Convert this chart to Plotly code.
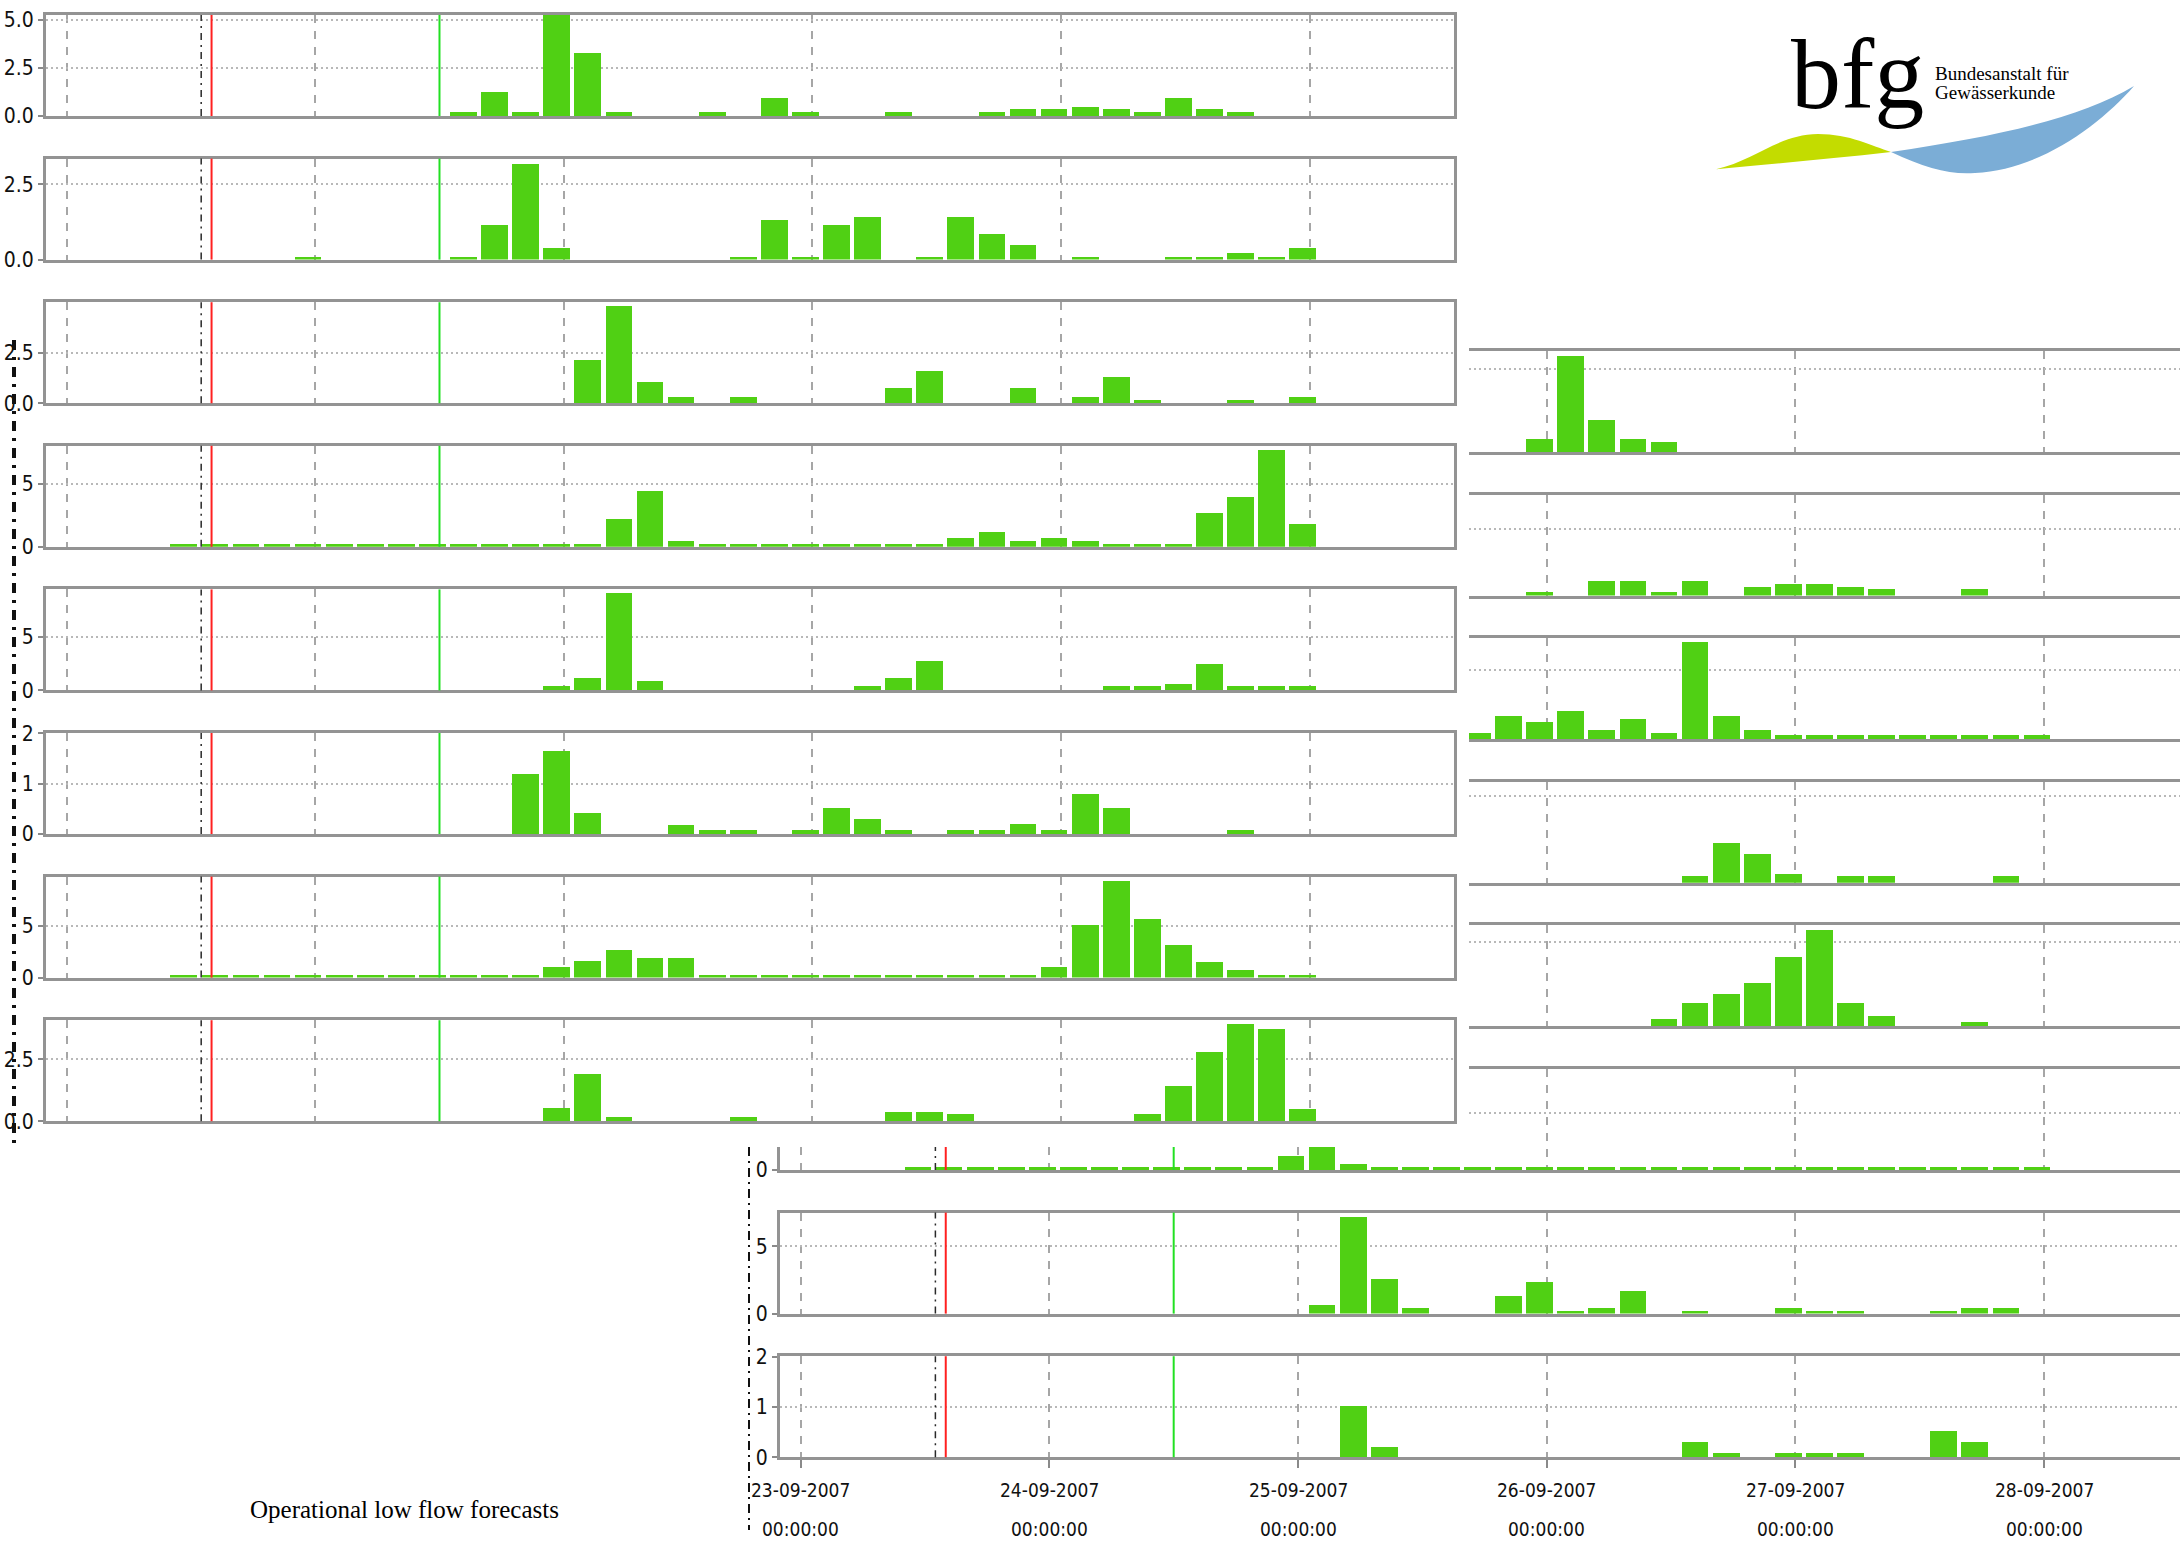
import pandas as pd
import plotly.graph_objects as go

W, H = 2180, 1542

# ---------------------------------------------------------------------------
# 3-hourly precipitation sums (mm / 3 h), one series per panel.
# Each series starts at the given period start and steps by 3 hours.
# ---------------------------------------------------------------------------
# left sheet (8 stations)
a1_start = "2007-09-24 12:00"
a1_mm = [0.21, 1.26, 0.21, 5.4, 3.3, 0.21, 0, 0, 0.21, 0, 0.95, 0.21, 0, 0,
         0.21, 0, 0, 0.21, 0.35, 0.35, 0.49, 0.35, 0.21, 0.95, 0.35, 0.21]
a2_start = "2007-09-23 21:00"
a2_mm = [0.11, 0, 0, 0, 0, 0.11, 1.16, 3.19, 0.39, 0, 0, 0, 0, 0, 0.11, 1.33,
         0.11, 1.16, 1.42, 0, 0.11, 1.42, 0.88, 0.49, 0, 0.11, 0, 0, 0.11,
         0.11, 0.22, 0.11, 0.39]
a3_start = "2007-09-25 00:00"
a3_mm = [2.13, 4.8, 1.03, 0.3, 0, 0.3, 0, 0, 0, 0, 0.75, 1.58, 0, 0, 0.75, 0,
         0.3, 1.3, 0.17, 0, 0, 0.17, 0, 0.3]
a4_start = "2007-09-23 09:00"
a4_mm = [0.26, 0.26, 0.26, 0.26, 0.26, 0.26, 0.26, 0.26, 0.26, 0.26, 0.26,
         0.26, 0.26, 0.26, 2.2, 4.4, 0.5, 0.26, 0.26, 0.26, 0.26, 0.26, 0.26,
         0.26, 0.26, 0.7, 1.15, 0.5, 0.7, 0.5, 0.26, 0.26, 0.26, 2.66, 3.96,
         7.68, 1.8]
a5_start = "2007-09-24 21:00"
a5_mm = [0.35, 1.13, 9.06, 0.88, 0, 0, 0, 0, 0, 0, 0.35, 1.13, 2.74, 0, 0, 0,
         0, 0, 0.35, 0.35, 0.6, 2.42, 0.35, 0.35, 0.35]
a6_start = "2007-09-24 18:00"
a6_mm = [1.2, 1.64, 0.41, 0, 0, 0.18, 0.08, 0.08, 0, 0.08, 0.52, 0.3, 0.08, 0,
         0.08, 0.08, 0.19, 0.08, 0.8, 0.52, 0, 0, 0, 0.08]
a7_start = "2007-09-23 09:00"
a7_mm = [0.3, 0.3, 0.3, 0.3, 0.3, 0.3, 0.3, 0.3, 0.3, 0.3, 0.3, 0.3, 1.11,
         1.66, 2.74, 1.91, 1.91, 0.28, 0.28, 0.28, 0.28, 0.28, 0.28, 0.28,
         0.28, 0.28, 0.28, 0.28, 1.06, 5.1, 9.45, 5.68, 3.23, 1.6, 0.8, 0.28,
         0.28]
a8_start = "2007-09-24 21:00"
a8_mm = [0.52, 1.88, 0.18, 0, 0, 0, 0.18, 0, 0, 0, 0, 0.38, 0.38, 0.27, 0, 0,
         0, 0, 0, 0.27, 1.41, 2.79, 3.92, 3.7, 0.5]

# right sheet (8 stations)
b1_start = "2007-09-25 21:00"
b1_mm = [0.77, 5.73, 1.92, 0.77, 0.61]
b2_start = "2007-09-25 21:00"
b2_mm = [0.15, 0, 0.58, 0.58, 0.15, 0.58, 0, 0.35, 0.46, 0.46, 0.35, 0.25, 0,
         0, 0.25]
b3_start = "2007-09-25 15:00"
b3_mm = [0.47, 1.67, 1.25, 2.05, 0.66, 1.46, 0.47, 7.0, 1.67, 0.66, 0.28,
         0.28, 0.28, 0.28, 0.28, 0.28, 0.28, 0.28, 0.28]
b4_start = "2007-09-26 12:00"
b4_mm = [0.19, 1.16, 0.84, 0.27, 0, 0.19, 0.19, 0, 0, 0, 0.19]
b5_start = "2007-09-26 09:00"
b5_mm = [0.4, 1.39, 1.9, 2.56, 4.07, 5.73, 1.39, 0.58, 0, 0, 0.24]
b6_start = "2007-09-23 09:00"
b6_mm = [0.29, 0.29, 0.29, 0.29, 0.29, 0.29, 0.29, 0.29, 0.29, 0.29, 0.29,
         0.29, 1.25, 2.4, 0.52, 0.29, 0.29, 0.29, 0.29, 0.29, 0.29, 0.29,
         0.29, 0.29, 0.29, 0.29, 0.29, 0.29, 0.29, 0.29, 0.29, 0.29, 0.29,
         0.29, 0.29, 0.29, 0.29]
b7_start = "2007-09-25 00:00"
b7_mm = [0.68, 7.2, 2.58, 0.45, 0, 0, 1.3, 2.35, 0.23, 0.45, 1.73, 0, 0.23, 0,
         0, 0.45, 0.23, 0.23, 0, 0, 0.23, 0.45, 0.45]
b8_start = "2007-09-25 03:00"
b8_mm = [1.02, 0.19, 0, 0, 0, 0, 0, 0, 0, 0, 0, 0.3, 0.08, 0, 0.08, 0.08, 0.08,
         0, 0, 0.52, 0.3]

# axis ticks
day_ticks = ["2007-09-23", "2007-09-24", "2007-09-25", "2007-09-26",
             "2007-09-27", "2007-09-28"]
day_labels = ["23-09-2007", "24-09-2007", "25-09-2007", "26-09-2007",
              "27-09-2007", "28-09-2007"]
time_label = "00:00:00"

# marker times drawn as vertical lines
t_last_obs = "2007-09-23 13:00"
t_issue = "2007-09-23 14:00"
t_forecast = "2007-09-24 12:00"

# ---------------------------------------------------------------------------
# styling / geometry
# ---------------------------------------------------------------------------
BAR = "#50d014"
FRAME = "#939393"
VGRID = "#a6a6a6"
HGRID = "#b8b8b8"
NARROW = "Liberation Sans Narrow, DejaVu Sans Condensed, Arial Narrow, sans-serif"
SERIF = "Liberation Serif, Times New Roman, serif"

T0 = pd.Timestamp("2007-09-23 00:00")
PX_PER_H = 248.66 / 24.0
A_DAY0, B_DAY0 = 66.5, 800.7          # pixel column of 23-09 00:00
A_LEFT, A_RIGHT = 46.0, 1454.0
B_LEFT, B_CUT, B_RIGHT = 780.0, 1469.0, 2180.0
COVER_Y = 1147.0                       # lower edge of the left sheet
A_TOP0, B_TOP0, STEP, PH = 15.0, 351.0, 143.6, 101.0

BAR_W = 2.58 * 3600000
BAR_OFF = 1.03 * 3600000


def t_at(x_px, day0):
    t = T0 + pd.Timedelta(hours=(x_px - day0) / PX_PER_H)
    return t.strftime("%Y-%m-%d %H:%M:%S")


def aid(prefix, k):
    return prefix if k == 1 else f"{prefix}{k}"


fig = go.Figure()
layout = {}
shapes = []
annotations = []
count = [0]


def add_panel(start, vals, xpx, day0, ypx, yrange, tickvals, ticktext=None,
              frame="full", markers=False, bottom_ticks=False):
    count[0] += 1
    k = count[0]
    times = pd.date_range(start, periods=len(vals), freq="3h")
    fig.add_trace(go.Bar(
        x=times, y=vals, xaxis=aid("x", k), yaxis=aid("y", k),
        width=BAR_W, offset=BAR_OFF,
        marker=dict(color=BAR, line=dict(width=0)),
        hoverinfo="skip", showlegend=False))

    x_mirror = frame in ("full", "right", "open")
    y_line = frame in ("full", "cut", "open")
    y_mirror = frame == "full"
    show_labels = ticktext is not None

    layout[aid("xaxis", k)] = dict(
        type="date", anchor=aid("y", k),
        domain=[xpx[0] / W, xpx[1] / W],
        range=[t_at(xpx[0], day0), t_at(xpx[1], day0)],
        tickmode="array", tickvals=day_ticks, showticklabels=False,
        ticks="outside" if bottom_ticks else "", ticklen=8, tickwidth=1.5,
        tickcolor="#8a8a8a",
        showgrid=True, gridcolor=VGRID, griddash="8px,8px", gridwidth=1.5,
        showline=True, linecolor=FRAME, linewidth=3, mirror=x_mirror,
        zeroline=False, fixedrange=True)
    layout[aid("yaxis", k)] = dict(
        anchor=aid("x", k),
        domain=[1 - ypx[1] / H, 1 - ypx[0] / H],
        range=yrange,
        tickmode="array", tickvals=tickvals,
        ticktext=ticktext if show_labels else None,
        showticklabels=show_labels,
        ticks="outside" if show_labels else "", ticklen=5, tickwidth=2,
        tickcolor="#8a8a8a", ticklabelstandoff=0,
        tickfont=dict(family=NARROW, size=21, color="#111111"),
        showgrid=True, gridcolor=HGRID, griddash="2px,3px", gridwidth=2,
        showline=y_line, linecolor=FRAME, linewidth=3, mirror=y_mirror,
        zeroline=False, fixedrange=True)

    if markers:
        for t, col, dash, w in ((t_last_obs, "#2a2a2a", "7px,5px,2px,5px", 1.5),
                                (t_issue, "#ff2020", "solid", 2),
                                (t_forecast, "#22e022", "solid", 2)):
            shapes.append(dict(type="line", xref=aid("x", k),
                               yref=aid("y", k) + " domain",
                               x0=t, x1=t, y0=0, y1=1, layer="above",
                               line=dict(color=col, width=w, dash=dash)))
    return k


# ---- left sheet --------------------------------------------------------
left_sheet = [
    (a1_start, a1_mm, [0, 5.26], [0, 2.5, 5.0], ["0.0", "2.5", "5.0"]),
    (a2_start, a2_mm, [0, 3.36], [0, 2.5], ["0.0", "2.5"]),
    (a3_start, a3_mm, [0, 5.0], [0, 2.5], ["0.0", "2.5"]),
    (a4_start, a4_mm, [0, 8.0], [0, 5], ["0", "5"]),
    (a5_start, a5_mm, [0, 9.4], [0, 5], ["0", "5"]),
    (a6_start, a6_mm, [0, 2.005], [0, 1, 2], ["0", "1", "2"]),
    (a7_start, a7_mm, [0, 9.8], [0, 5], ["0", "5"]),
    (a8_start, a8_mm, [0, 4.08], [0, 2.5], ["0.0", "2.5"]),
]
for i, (st, vals, yr, tv, tt) in enumerate(left_sheet):
    top = A_TOP0 + STEP * i
    add_panel(st, vals, (A_LEFT, A_RIGHT), A_DAY0, (top, top + PH), yr, tv, tt,
              frame="full", markers=True)

# ---- right sheet: upper panels, only the part right of the left sheet ----
right_upper = [
    (b1_start, b1_mm, [0, 6.05], [0, 5]),
    (b2_start, b2_mm, [0, 3.79], [0, 2.5]),
    (b3_start, b3_mm, [0, 7.3], [0, 5]),
    (b4_start, b4_mm, [0, 2.9], [0, 2.5]),
    (b5_start, b5_mm, [0, 6.0], [0, 5]),
    (b6_start, b6_mm, [0, 8.9], [0, 5]),
]
for i, (st, vals, yr, tv) in enumerate(right_upper):
    top = B_TOP0 + STEP * i
    add_panel(st, vals, (B_CUT, B_RIGHT), B_DAY0, (top, top + PH), yr, tv,
              None, frame="right")

# sixth panel of the right sheet: strip visible below the left sheet
b6_top = B_TOP0 + STEP * 5
b6_zero = b6_top + PH
b6_vis = 8.9 * (b6_zero - COVER_Y) / PH
add_panel(b6_start, b6_mm, (B_LEFT, B_CUT), B_DAY0, (COVER_Y, b6_zero),
          [0, b6_vis], [0], ["0"], frame="cut", markers=True)

# last two panels of the right sheet, fully visible
b7_top = B_TOP0 + STEP * 6
add_panel(b7_start, b7_mm, (B_LEFT, B_RIGHT), B_DAY0, (b7_top, b7_top + PH),
          [0, 7.5], [0, 5], ["0", "5"], frame="open", markers=True)
b8_top = B_TOP0 + STEP * 7
k_b8 = add_panel(b8_start, b8_mm, (B_LEFT, B_RIGHT), B_DAY0,
                 (b8_top, b8_top + PH), [0, 2.01], [0, 1, 2], ["0", "1", "2"],
                 frame="open", markers=True, bottom_ticks=True)

# date / time labels under the right sheet
for d, lab in zip(day_ticks, day_labels):
    annotations.append(dict(x=d, y=1 - 1490 / H, xref=aid("x", k_b8),
                            yref="paper", text=lab, showarrow=False,
                            xanchor="center", yanchor="middle",
                            font=dict(family=NARROW, size=19, color="#111111")))
    annotations.append(dict(x=d, y=1 - 1529 / H, xref=aid("x", k_b8),
                            yref="paper", text=time_label, showarrow=False,
                            xanchor="center", yanchor="middle",
                            font=dict(family=NARROW, size=19, color="#111111")))


# ---- page decorations --------------------------------------------------
def px(x, y):
    return f"{x / W:.5f},{1 - y / H:.5f}"


def svg(start, curves):
    d = "M " + px(*start)
    for c in curves:
        d += " C " + " ".join(px(*p) for p in c)
    return d + " Z"


# compressed vertical axis titles
shapes.append(dict(type="line", xref="paper", yref="paper",
                   x0=14 / W, x1=14 / W, y0=1 - 340 / H, y1=1 - 1145 / H,
                   line=dict(color="#111111", width=4, dash="10px,7px,3px,7px")))
shapes.append(dict(type="line", xref="paper", yref="paper",
                   x0=749 / W, x1=749 / W, y0=1 - 1147 / H, y1=1 - 1530 / H,
                   line=dict(color="#111111", width=2, dash="9px,5px,2px,5px")))

# logo swooshes
shapes.append(dict(type="path", xref="paper", yref="paper", layer="above",
                   path=svg((1716, 169.3), [[(1755, 160), (1780, 134), (1818, 134)],
                                            [(1850, 134), (1872, 146), (1891, 152)],
                                            [(1830, 159), (1770, 164), (1716, 169.3)]]),
                   fillcolor="#c3dc00", line=dict(width=0)))
shapes.append(dict(type="path", xref="paper", yref="paper", layer="above",
                   path=svg((1891, 152), [[(1925, 168), (1950, 175), (1975, 173)],
                                          [(2040, 170), (2100, 125), (2134, 86)],
                                          [(2080, 118), (2000, 136), (1891, 152)]]),
                   fillcolor="#7badd6", line=dict(width=0)))

annotations.append(dict(x=1857 / W, y=1 - 74 / H, xref="paper", yref="paper",
                        text="bfg", showarrow=False, xanchor="center",
                        yanchor="middle",
                        font=dict(family=SERIF, size=100, color="#000000")))
annotations.append(dict(x=1933 / W, y=1 - 73.6 / H, xref="paper", yref="paper",
                        text="Bundesanstalt für", showarrow=False,
                        xanchor="left", yanchor="middle",
                        font=dict(family=SERIF, size=19, color="#000000")))
annotations.append(dict(x=1933 / W, y=1 - 92.6 / H, xref="paper", yref="paper",
                        text="Gewässerkunde", showarrow=False,
                        xanchor="left", yanchor="middle",
                        font=dict(family=SERIF, size=19, color="#000000")))
annotations.append(dict(x=404 / W, y=1 - 1509.6 / H, xref="paper", yref="paper",
                        text="Operational low flow forecasts", showarrow=False,
                        xanchor="center", yanchor="middle",
                        font=dict(family=SERIF, size=25, color="#000000")))

fig.update_layout(
    width=W, height=H, autosize=False,
    margin=dict(l=0, r=0, t=0, b=0, pad=0, autoexpand=False),
    paper_bgcolor="#ffffff", plot_bgcolor="rgba(0,0,0,0)",
    showlegend=False, bargap=0,
    shapes=shapes, annotations=annotations,
    **layout)

fig.write_html("out.html", config={"displayModeBar": False})
